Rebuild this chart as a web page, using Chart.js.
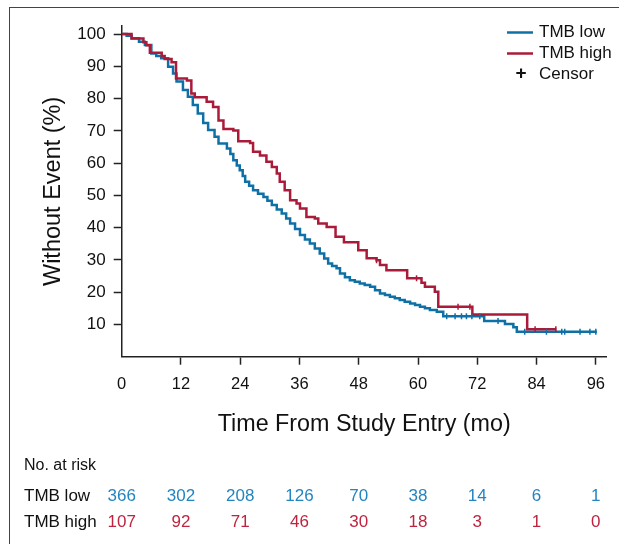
<!DOCTYPE html>
<html>
<head>
<meta charset="utf-8">
<script src="https://cdn.jsdelivr.net/npm/chart.js@4.4.1/dist/chart.umd.min.js"></script>
<style>
    body { margin: 0; background: #fff; overflow: hidden; }
    #wrap { position: relative; width: 619px; height: 544px; }
    #frame { position: absolute; left: 9px; top: 7px; right: 0; bottom: 0;
             border-top: 1px solid #444; border-left: 1px solid #444; }
    #km { position: absolute; left: 0; top: 0; }
</style>
</head>
<body>
<div id="wrap">
    <div id="frame"></div>
    <canvas id="km" width="619" height="544"></canvas>
</div>
<script>
// Kaplan-Meier data (months, % without event)
const lowTimes = [0, 1, 2, 3.5, 4.7, 6, 7, 8, 9.4, 10.4, 11.1, 12.4, 13.4, 14.4, 15.4, 16.5, 17.5, 18.8, 19.6, 21.3,
    22, 22.6, 23.3, 23.9, 24.5, 25, 25.8, 26.6, 27.6, 28.7, 29.5, 30.4, 31.4, 32.4, 33.3, 34.1, 35.1, 36.1, 37.1, 38.1,
    39.1, 40.1, 41, 41.8, 42.6, 43.5, 44.2, 45.2, 46.2, 47.2, 48.2, 49.2, 50.3, 51.3, 52.3, 53.3, 54.3, 55.3, 56.3,
    57.3, 58.4, 59.4, 60.4, 61.4, 62.4, 63.8, 65.1, 73.4, 77.6, 79.3, 80, 96.2];
const lowSurv = [100, 99.5, 98.7, 97.6, 96.6, 94, 93.2, 92.5, 89.9, 87.8, 85.3, 82.7, 80.6, 78, 75.4, 72.4, 70.3, 68.2, 66.1, 64.5,
    62.8, 60.9, 59.3, 57.8, 56, 54.2, 53, 51.6, 50.5, 49.5, 48.3, 47, 45.6, 44.4, 42.8, 41.3, 39.6, 37.7, 36.3, 35.1,
    33.5, 32, 30.4, 28.9, 28.1, 27.4, 25.8, 24.6, 23.7, 23.2, 22.7, 22.2, 21.7, 20.6, 19.6, 19.1, 18.6, 18.1, 17.6,
    17, 16.5, 16, 15.5, 15, 14.5, 13.9, 12.5, 11.1, 10.1, 9.1, 7.7, 7.7];
const highTimes = [0, 2, 4.4, 5, 5.7, 8.1, 8.7, 10.1, 11, 13.2, 14.1, 14.8, 17.2, 18.5, 19.6, 20.6, 22.6, 23.6, 26, 26.6,
    28, 29.3, 30.4, 31.4, 32, 33, 34.1, 35.4, 36.1, 37.4, 39.1, 39.8, 41.5, 43.3, 45, 47.9, 49.6, 51.6, 52.3, 53.6,
    57.8, 60.7, 61.4, 63.4, 64.1, 71, 82.1, 88];
const highSurv = [100, 98.6, 97.5, 96.5, 94.2, 93.2, 92.3, 91.3, 86.2, 85.6, 81.6, 80.4, 79, 77.4, 73.2, 70.6, 70.1, 66.8, 66.2, 63.5,
    62.4, 60.4, 58.8, 56.8, 54.2, 51.6, 48.5, 47.5, 45.9, 43.3, 42.8, 41.3, 40.2, 37.2, 35.5, 33, 30.5, 29.9, 28.4, 26.8,
    24.3, 22.9, 21.7, 20.1, 15.5, 13.1, 8.5, 8.5];
const lowCensor = [65.8, 67.5, 68.8, 69.8, 70.9, 72.5, 76.2, 81.6, 86, 89.1, 89.7, 92.8, 94.8, 96];
const highCensor = [51.6, 59.7, 68.1, 70.5, 83.7, 87.9];

const xTicks = [0, 12, 24, 36, 48, 60, 72, 84, 96];
const yTicks = [10, 20, 30, 40, 50, 60, 70, 80, 90, 100];
const lowRisk = [366, 302, 208, 126, 70, 38, 14, 6, 1];
const highRisk = [107, 92, 71, 46, 30, 18, 3, 1, 0];

const BLUE = '#0F70A5';
const RED = '#AA1B3A';
const BLUE_TXT = '#2385BF';
const RED_TXT = '#BE2440';
const INK = '#111';
const SANS = '"Liberation Sans", Arial, sans-serif';

function toPoints(times, surv) {
    return times.map((t, i) => ({ x: t, y: surv[i] }));
}

function survAt(times, surv, t) {
    let s = surv[0];
    for (let i = 0; i < times.length; i++) {
        if (times[i] <= t) s = surv[i];
    }
    return s;
}

function censorPoints(censor, times, surv) {
    return censor.map(t => ({ x: t, y: survAt(times, surv, t) }));
}

// legend + number-at-risk table
const extrasPlugin = {
    id: 'extras',
    afterDraw(chart) {
        const ctx = chart.ctx;
        const xs = chart.scales.x;
        ctx.save();

        // legend
        ctx.lineWidth = 2.5;
        ctx.strokeStyle = BLUE;
        ctx.beginPath(); ctx.moveTo(507, 32.5); ctx.lineTo(533, 32.5); ctx.stroke();
        ctx.strokeStyle = RED;
        ctx.beginPath(); ctx.moveTo(507, 53.5); ctx.lineTo(533, 53.5); ctx.stroke();
        ctx.fillStyle = INK;
        ctx.font = '17px ' + SANS;
        ctx.textBaseline = 'middle';
        ctx.textAlign = 'left';
        ctx.fillText('TMB low', 539, 32.5);
        ctx.fillText('TMB high', 539, 53.5);
        ctx.fillText('Censor', 539, 74);
        ctx.textAlign = 'center';
        ctx.font = 'bold 19px ' + SANS;
        ctx.fillText('+', 521, 74);

        // risk table
        ctx.textAlign = 'left';
        ctx.font = '16px ' + SANS;
        ctx.fillText('No. at risk', 24, 466);
        ctx.font = '17px ' + SANS;
        ctx.fillText('TMB low', 24, 496);
        ctx.fillText('TMB high', 24, 522);
        ctx.textAlign = 'center';
        xTicks.forEach((t, i) => {
            const px = xs.getPixelForValue(t);
            ctx.fillStyle = BLUE_TXT;
            ctx.fillText(String(lowRisk[i]), px, 496);
            ctx.fillStyle = RED_TXT;
            ctx.fillText(String(highRisk[i]), px, 522);
        });
        ctx.restore();
    }
};

new Chart(document.getElementById('km'), {
    type: 'line',
    data: {
        datasets: [
            {
                label: 'TMB low',
                data: toPoints(lowTimes, lowSurv),
                borderColor: BLUE,
                borderWidth: 2.5,
                stepped: 'before',
                pointRadius: 0,
                fill: false,
                order: 3
            },
            {
                label: 'TMB high',
                data: toPoints(highTimes, highSurv),
                borderColor: RED,
                borderWidth: 2.5,
                stepped: 'before',
                pointRadius: 0,
                fill: false,
                order: 2
            },
            {
                label: 'low censor',
                data: censorPoints(lowCensor, lowTimes, lowSurv),
                showLine: false,
                pointStyle: 'line',
                rotation: 90,
                pointRadius: 3,
                borderColor: BLUE,
                pointBorderWidth: 1.5,
                order: 1
            },
            {
                label: 'high censor',
                data: censorPoints(highCensor, highTimes, highSurv),
                showLine: false,
                pointStyle: 'line',
                rotation: 90,
                pointRadius: 3,
                borderColor: RED,
                pointBorderWidth: 1.5,
                order: 0
            }
        ]
    },
    options: {
        responsive: false,
        animation: false,
        layout: { padding: { left: 30, top: 26, right: 12.3, bottom: 102.3 } },
        plugins: {
            legend: { display: false },
            tooltip: { enabled: false }
        },
        scales: {
            x: {
                type: 'linear',
                min: 0,
                max: 98.2,
                afterBuildTicks: scale => { scale.ticks = xTicks.map(v => ({ value: v })); },
                afterFit: scale => { scale.height = 85; },
                ticks: {
                    color: INK,
                    padding: 10,
                    maxRotation: 0,
                    font: { family: SANS, size: 16.5 }
                },
                grid: {
                    drawOnChartArea: false,
                    drawTicks: true,
                    tickLength: 8,
                    tickWidth: 1.5,
                    color: ctx => (ctx.tick && ctx.tick.value === 0) ? 'rgba(0,0,0,0)' : '#222'
                },
                border: { display: true, color: '#222', width: 1.5 },
                title: {
                    display: true,
                    text: 'Time From Study Entry (mo)',
                    color: INK,
                    font: { family: SANS, size: 23.3 },
                    padding: { top: 0, bottom: 3 }
                }
            },
            y: {
                type: 'linear',
                min: 0,
                max: 102.5,
                afterBuildTicks: scale => { scale.ticks = yTicks.map(v => ({ value: v })); },
                afterFit: scale => { scale.width = 91.7; },
                ticks: {
                    color: INK,
                    padding: 8,
                    font: { family: SANS, size: 17 }
                },
                grid: {
                    drawOnChartArea: false,
                    drawTicks: true,
                    tickLength: 8,
                    tickWidth: 1.5,
                    color: '#222'
                },
                border: { display: true, color: '#222', width: 1.5 },
                title: {
                    display: true,
                    text: 'Without Event (%)',
                    color: INK,
                    font: { family: SANS, size: 23.5 },
                    padding: { top: 9, bottom: 0 }
                }
            }
        }
    },
    plugins: [extrasPlugin]
});
</script>
</body>
</html>
